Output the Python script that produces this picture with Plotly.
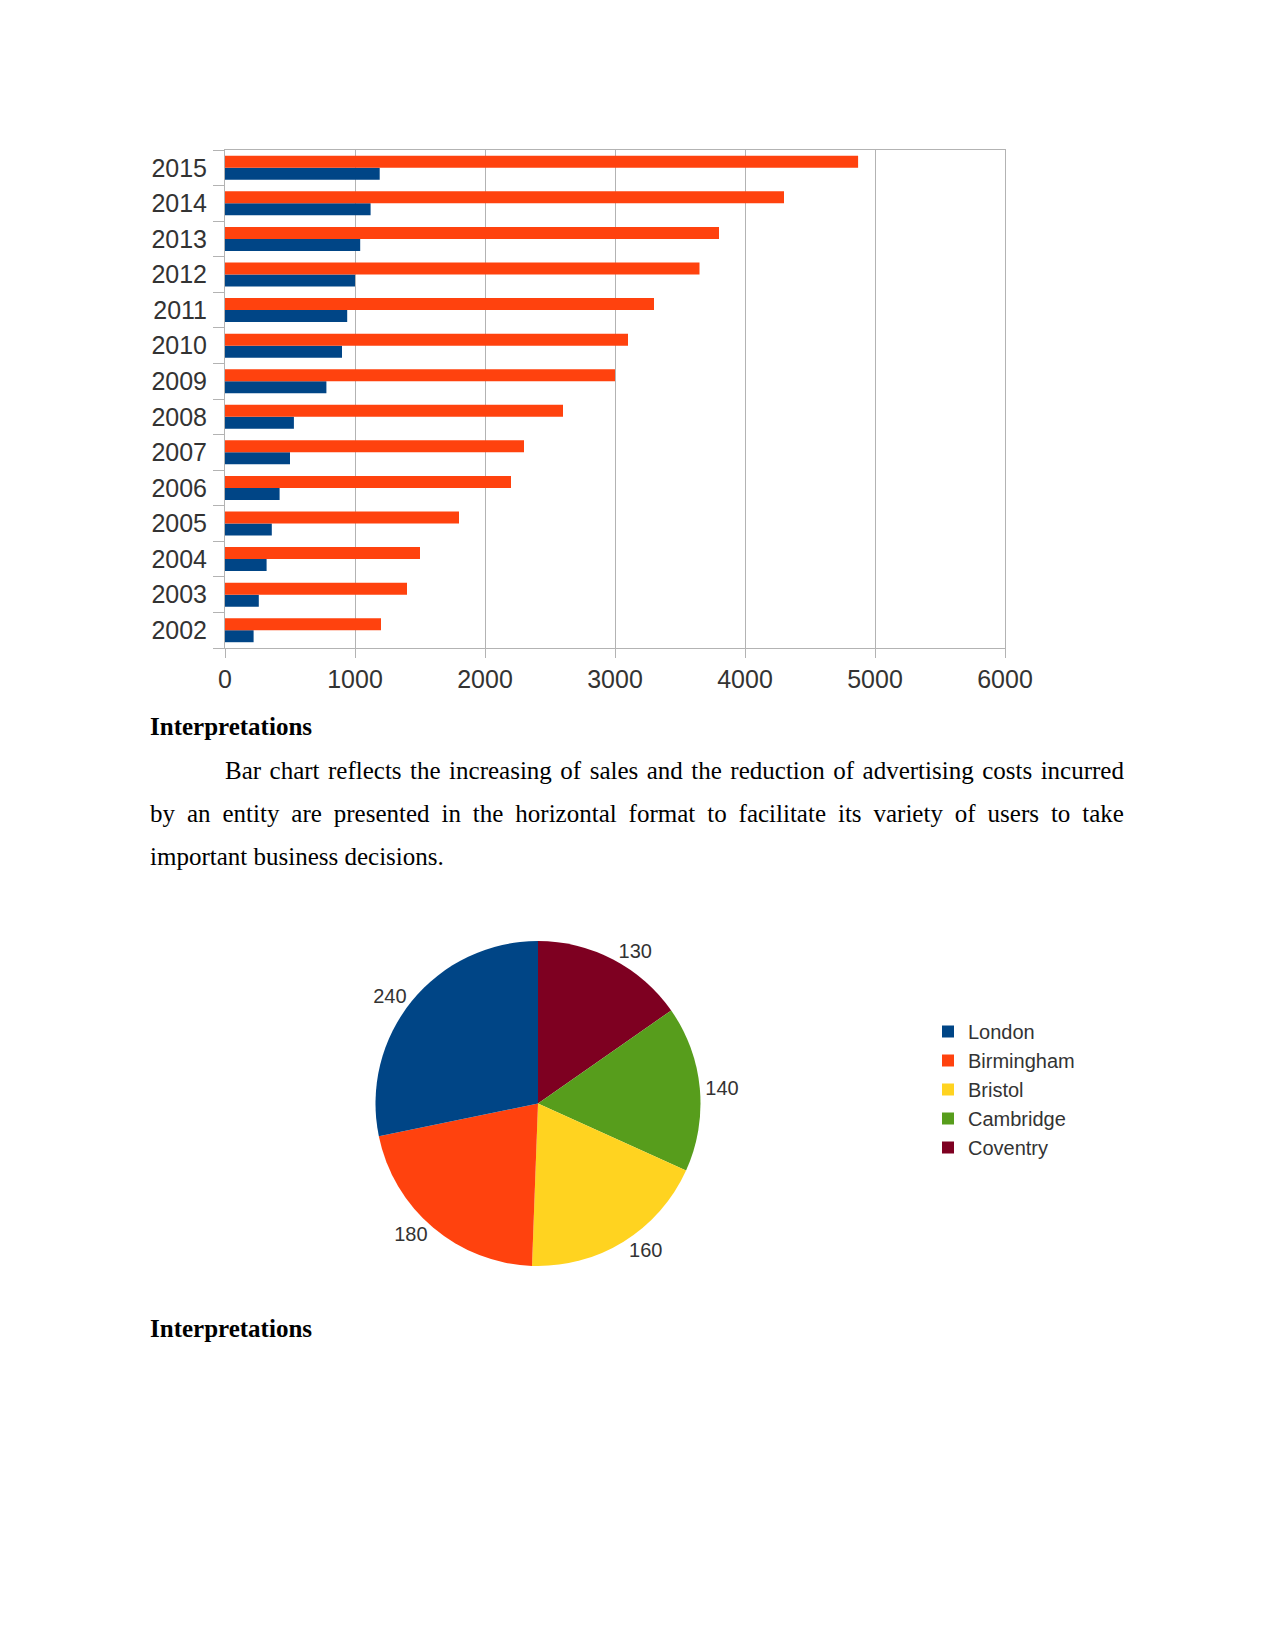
import plotly.graph_objects as go

# ---------------- data ----------------
years = ['2002', '2003', '2004', '2005', '2006', '2007', '2008',
         '2009', '2010', '2011', '2012', '2013', '2014', '2015']
sales = [1200, 1400, 1500, 1800, 2200, 2300, 2600,
         3000, 3100, 3300, 3650, 3800, 4300, 4870]
advertising = [220, 260, 320, 360, 420, 500, 530,
               780, 900, 940, 1000, 1040, 1120, 1190]
x_tick_values = [0, 1000, 2000, 3000, 4000, 5000, 6000]

cities = ['London', 'Birmingham', 'Bristol', 'Cambridge', 'Coventry']
city_values = [240, 180, 160, 140, 130]
city_colors = ['#004586', '#ff420e', '#ffd320', '#579d1c', '#7e0021']

heading = 'Interpretations'
para_lines = [
    'Bar chart reflects the increasing of sales and the reduction of advertising costs incurred',
    'by an entity are presented in the horizontal format to facilitate its variety of users to take',
    'important business decisions.',
]

# ---------------- page geometry ----------------
OFF = 8                 # default body margin of the html page
W = 1275 - 2 * OFF
H = 1650 - 2 * OFF


def px(x):
    return (x - OFF) / W


def py(y):
    return 1 - (y - OFF) / H


# Times / Liberation Serif regular advance widths (per 1000 em)
TW = {' ': 250, '.': 250, 'B': 667,
      'a': 444, 'b': 500, 'c': 444, 'd': 500, 'e': 444, 'f': 333, 'g': 500,
      'h': 500, 'i': 278, 'j': 278, 'k': 500, 'l': 278, 'm': 778, 'n': 500,
      'o': 500, 'p': 500, 'q': 500, 'r': 333, 's': 389, 't': 278, 'u': 500,
      'v': 500, 'w': 722, 'x': 500, 'y': 500, 'z': 444}
FS = 25


def text_width(s):
    return sum(TW.get(c, 500) for c in s) * FS / 1000.0


BAR_COLORS = ('#004586', '#ff420e')
AX = '#b3b3b3'
TXT = '#333333'
SANS = 'Liberation Sans, Arial, sans-serif'
SERIF = 'Liberation Serif, Times New Roman, serif'

fig = go.Figure()

fig.add_trace(go.Bar(y=years, x=advertising, orientation='h', name='Advertising costs',
                     marker=dict(color=BAR_COLORS[0], line=dict(width=0)),
                     showlegend=False, xaxis='x', yaxis='y'))
fig.add_trace(go.Bar(y=years, x=sales, orientation='h', name='Sales',
                     marker=dict(color=BAR_COLORS[1], line=dict(width=0)),
                     showlegend=False, xaxis='x', yaxis='y'))

# slices laid out clockwise from 12 o'clock in reverse order, so that the
# first city sits just counter-clockwise of 12 o'clock (as in the original);
# the legend is reversed back to the natural order.
PIE_CX, PIE_CY, PIE_R = 538, 1103.5, 162.5
fig.add_trace(go.Pie(labels=cities[::-1], values=city_values[::-1], sort=False,
                     direction='clockwise', rotation=0,
                     marker=dict(colors=city_colors[::-1], line=dict(width=0)),
                     textinfo='value', textposition='outside',
                     outsidetextfont=dict(family=SANS, size=20, color=TXT),
                     domain=dict(x=[px(PIE_CX - PIE_R), px(PIE_CX + PIE_R)],
                                 y=[py(PIE_CY + PIE_R), py(PIE_CY - PIE_R)]),
                     showlegend=True))

annotations = []
for hy in (727, 1328):
    annotations.append(dict(text='<b>%s</b>' % heading, x=px(150), y=py(hy),
                            xref='paper', yref='paper', xanchor='left', yanchor='middle',
                            showarrow=False, borderpad=0, borderwidth=0,
                            font=dict(family=SERIF, size=FS, color='#000000')))

line_starts = [225, 150, 150]
line_ys = [770, 813, 856]
RIGHT = 1124
for i, (s, x0, y0) in enumerate(zip(para_lines, line_starts, line_ys)):
    justify = i < len(para_lines) - 1
    txt = s
    if justify:
        gaps = s.count(' ')
        extra = (RIGHT - x0 - text_width(s)) / gaps
        txt = '<span style="word-spacing:%.2fpx">%s</span>' % (extra, s)
    annotations.append(dict(text=txt, x=px(x0), y=py(y0),
                            xref='paper', yref='paper', xanchor='left', yanchor='middle',
                            showarrow=False, borderpad=0, borderwidth=0,
                            font=dict(family=SERIF, size=FS, color='#000000')))

fig.update_layout(
    width=W, height=H,
    margin=dict(l=0, r=0, t=0, b=0),
    paper_bgcolor='white', plot_bgcolor='white',
    barmode='group', bargap=0.325, bargroupgap=0,
    xaxis=dict(domain=[px(225), px(1005)], range=[0, 6000],
               tickvals=x_tick_values, ticks='outside', ticklen=9, tickcolor=AX,
               showgrid=True, gridcolor=AX, gridwidth=1, zeroline=False,
               showline=True, linecolor=AX, linewidth=1, mirror=True,
               tickfont=dict(family=SANS, size=25, color=TXT),
               ticklabelstandoff=0, automargin=False, fixedrange=True),
    yaxis=dict(domain=[py(648), py(150)], type='category',
               categoryorder='array', categoryarray=years,
               ticks='outside', tickson='boundaries', ticklen=11, tickcolor=AX,
               showgrid=False, zeroline=False,
               showline=True, linecolor=AX, linewidth=1, mirror=True,
               tickfont=dict(family=SANS, size=25, color=TXT),
               ticklabelstandoff=12, automargin=False, fixedrange=True),
    legend=dict(x=px(928), y=py(1012), xanchor='left', yanchor='top',
                font=dict(family=SANS, size=20, color=TXT),
                itemwidth=30, bgcolor='rgba(0,0,0,0)', borderwidth=0,
                traceorder='reversed'),
    annotations=annotations,
)

fig.write_html('out.html')
